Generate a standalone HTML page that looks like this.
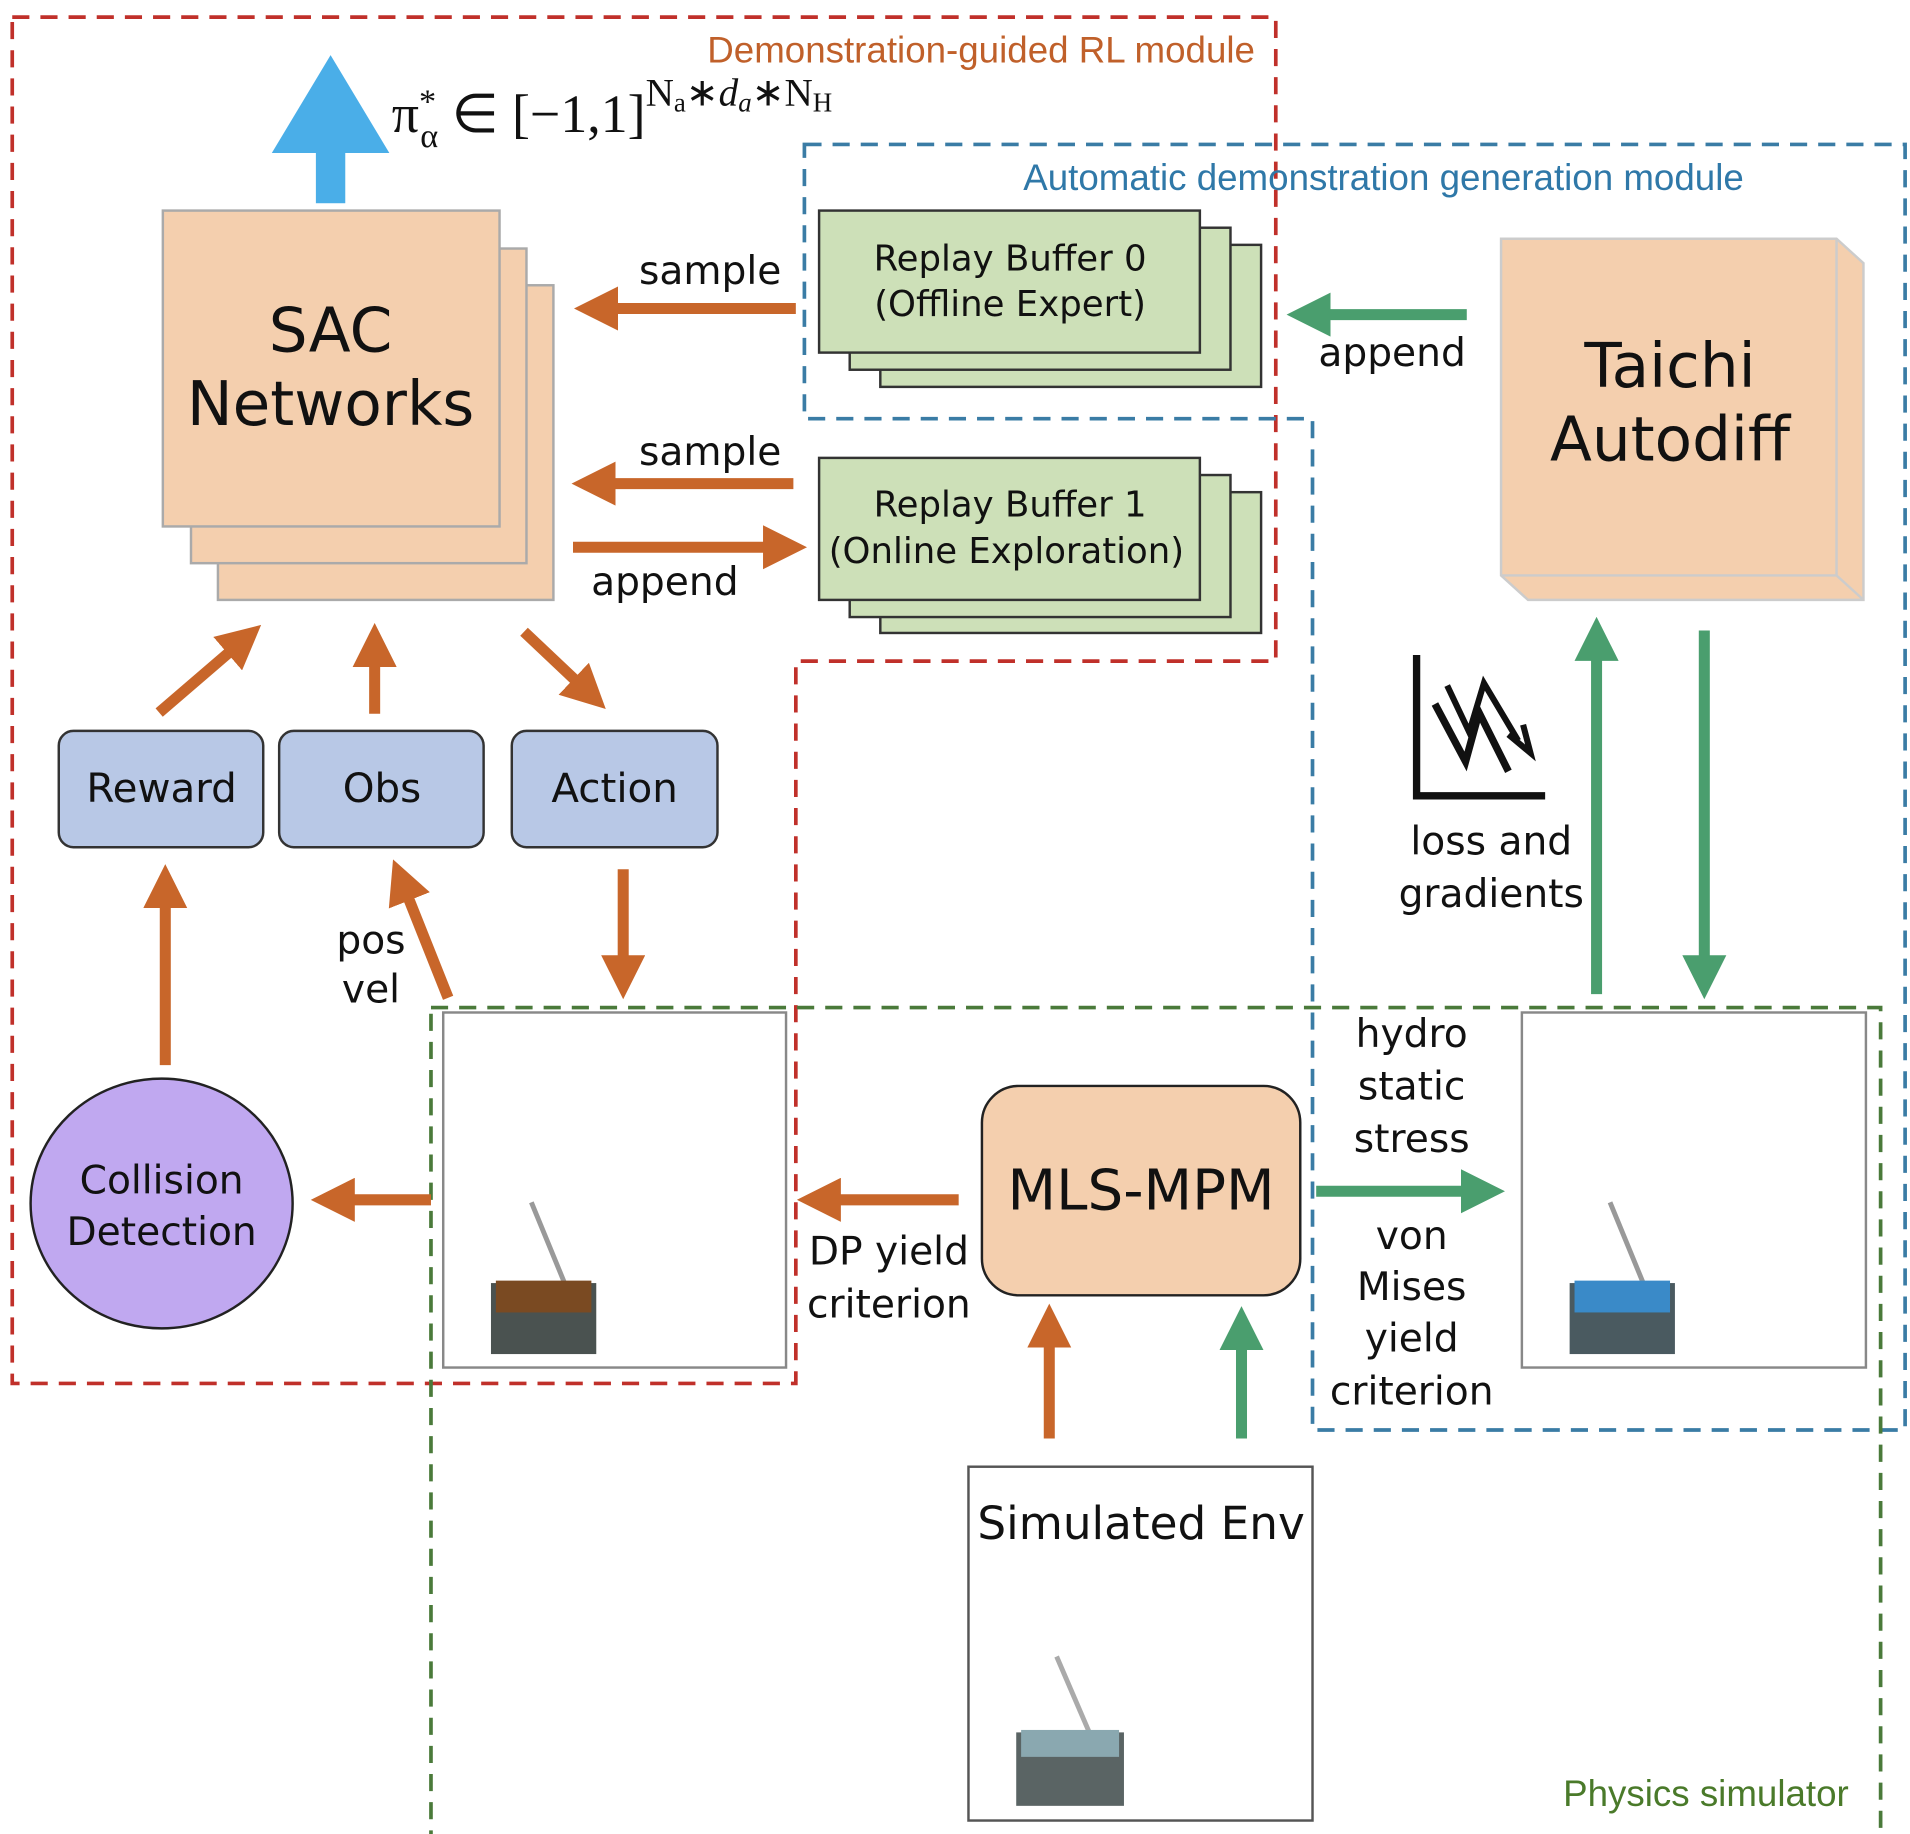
<!DOCTYPE html>
<html><head><meta charset="utf-8"><style>
html,body{margin:0;padding:0;background:#fff}
svg{display:block}
text{font-family:"DejaVu Sans","Liberation Sans",sans-serif;fill:#111}
</style></head><body>
<svg width="1910" height="1834" viewBox="0 0 1560 1498" preserveAspectRatio="none" xmlns="http://www.w3.org/2000/svg">
<defs>
<marker id="ao" markerWidth="4" markerHeight="4" refX="2.2" refY="2" orient="auto" markerUnits="strokeWidth"><path d="M0,0 L4,2 L0,4 z" fill="#c8662a"/></marker>
<marker id="ag" markerWidth="4" markerHeight="4" refX="2.2" refY="2" orient="auto" markerUnits="strokeWidth"><path d="M0,0 L4,2 L0,4 z" fill="#4a9e6e"/></marker>
</defs>
<rect width="1560" height="1498" fill="#fff"/>
<path d="M10,14 H1042 V540 H650 V1130 H10 Z" fill="none" stroke="#c0302a" stroke-width="3" stroke-dasharray="14,9"/>
<path d="M657,118 H1556 V1168 H1072 V342 H657 Z" fill="none" stroke="#3a7ca5" stroke-width="3" stroke-dasharray="14,9"/>
<rect x="352" y="823" width="1184" height="677" fill="none" stroke="#4a7a3a" stroke-width="3" stroke-dasharray="14,9"/>
<text x="1025" y="51" text-anchor="end" font-size="30" style="fill:#c0602a;font-family:'Liberation Sans',sans-serif">Demonstration-guided RL module</text>
<text x="1130" y="155" text-anchor="middle" font-size="30" style="fill:#2f78a8;font-family:'Liberation Sans',sans-serif">Automatic demonstration generation module</text>
<text x="1510" y="1475" text-anchor="end" font-size="30" style="fill:#4a7a2a;font-family:'Liberation Sans',sans-serif">Physics simulator</text>
<rect x="258" y="100" width="24" height="66" fill="#4aaee8"/>
<path d="M222,125 L270,45 L318,125 Z" fill="#4aaee8"/>
<text x="320" y="108" font-size="44" style="font-family:'Liberation Serif',serif">π<tspan font-size="28" dy="-16">*</tspan><tspan font-size="28" dx="-13" dy="28">α</tspan><tspan dy="-12"> ∈ [−1,1]</tspan><tspan font-size="32" dy="-22">N</tspan><tspan font-size="22" dy="5">a</tspan><tspan font-size="32" dy="-5">∗</tspan><tspan font-size="32" font-style="italic">d</tspan><tspan font-size="22" font-style="italic" dy="5">a</tspan><tspan font-size="32" dy="-5">∗N</tspan><tspan font-size="22" dy="5">H</tspan></text>
<rect x="178" y="233" width="274" height="257" fill="#f4cfae" stroke="#aaa" stroke-width="2"/>
<rect x="156" y="203" width="274" height="257" fill="#f4cfae" stroke="#aaa" stroke-width="2"/>
<rect x="133" y="172" width="275" height="258" fill="#f4cfae" stroke="#aaa" stroke-width="2"/>
<text x="270" y="287" text-anchor="middle" font-size="50">SAC</text>
<text x="270" y="347" text-anchor="middle" font-size="50">Networks</text>
<g fill="#cde0b8" stroke="#333" stroke-width="2">
<rect x="719" y="200" width="311" height="116"/><rect x="694" y="186" width="311" height="116"/><rect x="669" y="172" width="311" height="116"/>
<rect x="719" y="402" width="311" height="115"/><rect x="694" y="388" width="311" height="116"/><rect x="669" y="374" width="311" height="116"/>
</g>
<text x="825" y="221" text-anchor="middle" font-size="29">Replay Buffer 0</text>
<text x="825" y="258" text-anchor="middle" font-size="29">(Offline Expert)</text>
<text x="825" y="422" text-anchor="middle" font-size="29">Replay Buffer 1</text>
<text x="822" y="460" text-anchor="middle" font-size="29">(Online Exploration)</text>
<g stroke="#c8662a" stroke-width="9" fill="none" marker-end="url(#ao)">
<line x1="650" y1="252" x2="485" y2="252"/>
<line x1="648" y1="395" x2="483" y2="395"/>
<line x1="468" y1="447" x2="643" y2="447"/>
<line x1="130" y1="582" x2="201" y2="521"/>
<line x1="306" y1="583" x2="306" y2="525"/>
<line x1="428" y1="516" x2="483" y2="568"/>
<line x1="135" y1="870" x2="135" y2="722"/>
<line x1="366" y1="815" x2="327" y2="717"/>
<line x1="509" y1="710" x2="509" y2="800"/>
<line x1="352" y1="980" x2="270" y2="980"/>
<line x1="783" y1="980" x2="667" y2="980"/>
<line x1="857" y1="1175" x2="857" y2="1081"/>
</g>
<g stroke="#4a9e6e" stroke-width="9" fill="none" marker-end="url(#ag)">
<line x1="1198" y1="257" x2="1067" y2="257"/>
<line x1="1304" y1="812" x2="1304" y2="520"/>
<line x1="1392" y1="515" x2="1392" y2="800"/>
<line x1="1075" y1="973" x2="1213" y2="973"/>
<line x1="1014" y1="1175" x2="1014" y2="1083"/>
</g>
<text x="580" y="232" text-anchor="middle" font-size="32">sample</text>
<text x="580" y="380" text-anchor="middle" font-size="32">sample</text>
<text x="543" y="486" text-anchor="middle" font-size="32">append</text>
<text x="1137" y="299" text-anchor="middle" font-size="32">append</text>
<path d="M1226,195 H1500 L1522,215 V490 H1248 L1226,470 Z" fill="#f4cfae" stroke="#ccc" stroke-width="2"/>
<path d="M1500,195 V470 H1226 M1500,470 L1522,490" fill="none" stroke="#ccc" stroke-width="2"/>
<text x="1364" y="316" text-anchor="middle" font-size="50">Taichi</text>
<text x="1364" y="376" text-anchor="middle" font-size="50">Autodiff</text>
<path d="M1157,535 V650 H1262" fill="none" stroke="#111" stroke-width="6"/>
<path d="M1172,575 L1197,622 L1208,582 L1232,630" fill="none" stroke="#111" stroke-width="6"/>
<path d="M1182,560 L1200,598 L1212,558 L1240,605" fill="none" stroke="#111" stroke-width="5"/>
<path d="M1232,600 L1250,615 L1244,592" fill="none" stroke="#111" stroke-width="5"/>
<text x="1218" y="698" text-anchor="middle" font-size="32">loss and</text>
<text x="1218" y="741" text-anchor="middle" font-size="32">gradients</text>
<g fill="#b8c8e6" stroke="#333" stroke-width="2">
<rect x="48" y="597" width="167" height="95" rx="12"/>
<rect x="228" y="597" width="167" height="95" rx="12"/>
<rect x="418" y="597" width="168" height="95" rx="12"/>
</g>
<text x="132" y="655" text-anchor="middle" font-size="33">Reward</text>
<text x="312" y="655" text-anchor="middle" font-size="33">Obs</text>
<text x="502" y="655" text-anchor="middle" font-size="33">Action</text>
<text x="303" y="779" text-anchor="middle" font-size="32">pos</text>
<text x="303" y="819" text-anchor="middle" font-size="32">vel</text>
<ellipse cx="132" cy="983" rx="107" ry="102" fill="#c0a8f0" stroke="#222" stroke-width="2"/>
<text x="132" y="975" text-anchor="middle" font-size="32">Collision</text>
<text x="132" y="1017" text-anchor="middle" font-size="32">Detection</text>
<rect x="362" y="827" width="280" height="290" fill="#fff" stroke="#888" stroke-width="2"/>
<line x1="434" y1="982" x2="464" y2="1055" stroke="#999" stroke-width="4"/>
<rect x="401" y="1048" width="86" height="58" fill="#4a5250"/>
<rect x="405" y="1046" width="78" height="26" fill="#7a4a22"/>
<rect x="1243" y="827" width="281" height="290" fill="#fff" stroke="#888" stroke-width="2"/>
<line x1="1315" y1="982" x2="1345" y2="1055" stroke="#999" stroke-width="4"/>
<rect x="1282" y="1048" width="86" height="58" fill="#4a5a60"/>
<rect x="1286" y="1046" width="78" height="26" fill="#3a8ac8"/>
<rect x="802" y="887" width="260" height="171" rx="30" fill="#f4cfae" stroke="#222" stroke-width="2"/>
<text x="932" y="988" text-anchor="middle" font-size="46">MLS-MPM</text>
<text x="726" y="1033" text-anchor="middle" font-size="32">DP yield</text>
<text x="726" y="1076" text-anchor="middle" font-size="32">criterion</text>
<text x="1153" y="855" text-anchor="middle" font-size="32">hydro</text>
<text x="1153" y="898" text-anchor="middle" font-size="32">static</text>
<text x="1153" y="941" text-anchor="middle" font-size="32">stress</text>
<text x="1153" y="1020" text-anchor="middle" font-size="32">von</text>
<text x="1153" y="1062" text-anchor="middle" font-size="32">Mises</text>
<text x="1153" y="1104" text-anchor="middle" font-size="32">yield</text>
<text x="1153" y="1147" text-anchor="middle" font-size="32">criterion</text>
<rect x="791" y="1198" width="281" height="289" fill="#fff" stroke="#555" stroke-width="2"/>
<text x="932" y="1257" text-anchor="middle" font-size="37">Simulated Env</text>
<line x1="863" y1="1353" x2="897" y2="1432" stroke="#aaa" stroke-width="4"/>
<rect x="830" y="1415" width="88" height="60" fill="#5a6464"/>
<rect x="834" y="1413" width="80" height="22" fill="#8aa8b0"/>
</svg>
</body></html>
